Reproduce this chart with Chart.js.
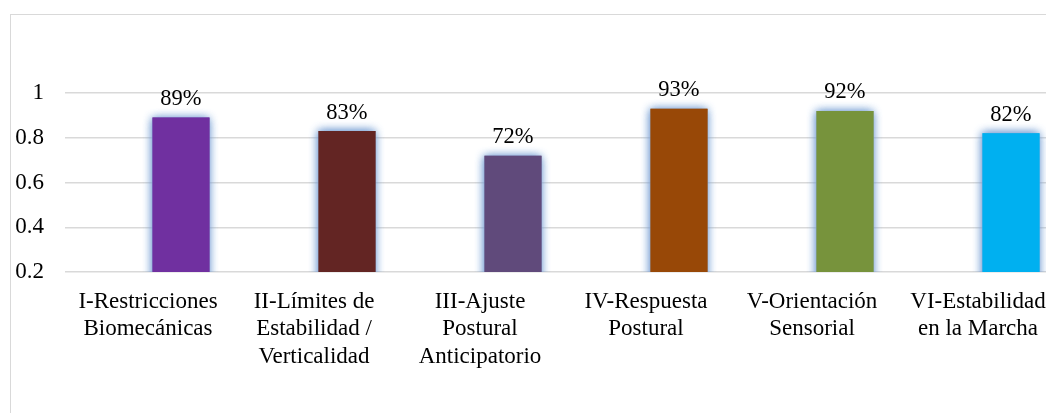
<!DOCTYPE html>
<html>
<head>
<meta charset="utf-8">
<script src="https://cdn.jsdelivr.net/npm/chart.js@4/dist/chart.umd.min.js"></script>
<style>
  html, body { margin: 0; padding: 0; background: #fff; overflow: hidden; width: 1046px; height: 413px; }
  #frame { position: absolute; left: 10px; top: 14px; width: 1200px; height: 500px; border: 1px solid #d9d9d9; box-sizing: border-box; }
  #c { position: absolute; left: 0; top: 0; }
</style>
</head>
<body>
<div id="frame"><canvas id="c" width="1050" height="398" style="width:1050px;height:398px"></canvas></div>
<script>
// ---- data ----
const categories = [
  ['I-Restricciones', 'Biomecánicas'],
  ['II-Límites de', 'Estabilidad /', 'Verticalidad'],
  ['III-Ajuste', 'Postural', 'Anticipatorio'],
  ['IV-Respuesta', 'Postural'],
  ['V-Orientación', 'Sensorial'],
  ['VI-Estabilidad', 'en la Marcha']
];
const values = [0.89, 0.83, 0.72, 0.93, 0.92, 0.82];
const barColors = ['#7030A0', '#632523', '#604A7B', '#984807', '#77933C', '#00B0F0'];
const emptySeries = [null, null, null, null, null, null];
const yTicks = [0.2, 0.4, 0.6, 0.8, 1];

const FONT = "Liberation Serif";
Chart.defaults.font.family = FONT;
Chart.defaults.color = '#000';

const glowPlugin = {
  id: 'glow',
  beforeDatasetDraw(chart, args) {
    const ctx = chart.ctx;
    ctx.save();
    ctx.shadowColor = 'rgb(120,160,212)';
    ctx.shadowBlur = 9;
    ctx.shadowOffsetX = 0;
    ctx.shadowOffsetY = 0;
  },
  afterDatasetDraw(chart, args) {
    const ctx = chart.ctx;
    if (args.index === 1) {
      const a = chart.chartArea;
      ctx.save();
      ctx.beginPath();
      ctx.rect(a.left, a.top - 20, a.right - a.left, a.bottom - a.top + 20);
      ctx.clip();
      args.meta.data.forEach(el => el.draw(ctx));
      ctx.restore();
    }
    ctx.restore();
  }
};

const labelPlugin = {
  id: 'valueLabels',
  afterDatasetsDraw(chart) {
    const ctx = chart.ctx;
    const meta = chart.getDatasetMeta(1);
    ctx.save();
    ctx.font = "22.5px " + FONT;
    ctx.fillStyle = '#000';
    ctx.textAlign = 'center';
    ctx.textBaseline = 'alphabetic';
    meta.data.forEach((bar, i) => {
      const v = chart.data.datasets[1].data[i];
      ctx.fillText(Math.round(v * 100) + '%', bar.x, bar.y - 12.5);
    });
    ctx.restore();
  }
};

new Chart(document.getElementById('c'), {
  type: 'bar',
  data: {
    labels: categories,
    datasets: [
      { data: emptySeries, backgroundColor: 'rgba(0,0,0,0)' },
      { data: values, backgroundColor: barColors, borderWidth: 0 }
    ]
  },
  options: {
    responsive: false,
    animation: false,
    devicePixelRatio: 1,
    categoryPercentage: 0.795,
    barPercentage: 0.864,
    layout: { padding: { top: 78, left: 0, right: 0, bottom: 0 } },
    plugins: { legend: { display: false }, tooltip: { enabled: false } },
    scales: {
      x: {
        grid: { display: false },
        border: { display: false },
        ticks: {
          color: '#000',
          font: { family: FONT, size: 23, lineHeight: 1.2 },
          padding: 8,
          maxRotation: 0,
          autoSkip: false
        },
        afterFit(scale) { scale.height = 141; }
      },
      y: {
        min: 0.2,
        max: 1,
        grid: { color: '#d9d9d9', lineWidth: 1.5, drawTicks: false },
        border: { display: false },
        afterBuildTicks(scale) { scale.ticks = yTicks.map(v => ({ value: v })); },
        ticks: {
          color: '#000',
          font: { family: FONT, size: 23 },
          padding: 21,
          callback: v => String(+v.toFixed(1))
        },
        afterFit(scale) { scale.width = 54; }
      }
    }
  },
  plugins: [glowPlugin, labelPlugin]
});
</script>
</body>
</html>
